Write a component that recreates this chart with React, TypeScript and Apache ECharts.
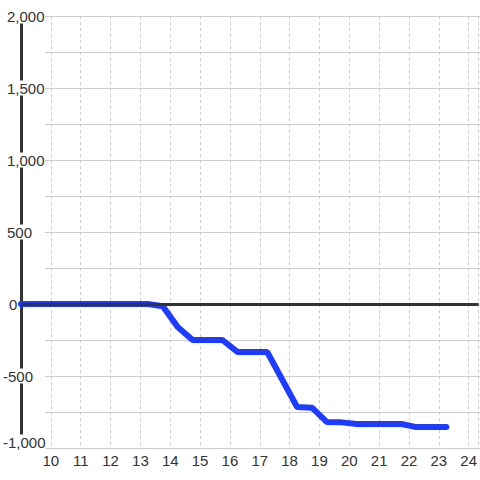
import React, { useEffect, useRef } from 'react';
import * as echarts from 'echarts';

// hour of day (x) and running value (y)
const hours = [9, 13.25, 13.75, 14.25, 14.75, 15.75, 16.25, 17.25, 18.25, 18.75, 19.25, 19.75, 20.25, 21.75, 22.25, 23.25];
const values = [0, 0, -15, -160, -250, -250, -333, -333, -715, -720, -820, -822, -833, -833, -855, -855];

const xMin = 9;
const xMax = 24 + 1 / 3;
const yMin = -1000;
const yMax = 2000;
const yLabelStep = 500;
const yGridStep = 250;

const FONT = 'Liberation Sans, Arial, sans-serif';

export default function App() {
  const ref = useRef<HTMLDivElement>(null);
  useEffect(() => {
    const chart = echarts.init(ref.current!, null, { renderer: 'svg' });
    const tok = { fontFamily: FONT, fontSize: 15, color: '#333' };
    chart.setOption({
      animation: false,
      backgroundColor: '#fff',
      grid: [
        { left: 20, right: 0, top: 16, bottom: 32 },
        { left: 45, right: 0, top: 16, bottom: 32 },
      ],
      xAxis: [
        {
          type: 'value',
          gridIndex: 0,
          min: xMin,
          max: xMax,
          interval: 1,
          axisLine: { show: false },
          axisTick: { show: false },
          axisLabel: {
            ...tok,
            margin: 5,
            showMinLabel: false,
            showMaxLabel: false,
            formatter: (v: number) => String(v),
          },
          splitLine: { show: true, lineStyle: { color: '#ccc', width: 1, type: [3, 3] } },
        },
        { type: 'value', gridIndex: 1, min: xMin, max: xMax, show: false },
      ],
      yAxis: [
        {
          type: 'value',
          gridIndex: 0,
          min: yMin,
          max: yMax,
          interval: yLabelStep,
          position: 'left',
          axisLine: { show: true, onZero: false, lineStyle: { color: '#333', width: 3 } },
          axisTick: { show: false },
          splitLine: { show: false },
          axisLabel: {
            ...tok,
            margin: 18,
            align: 'left',
            backgroundColor: '#fff',
            formatter: (v: number) => {
              const s = v.toLocaleString('en-US');
              if (v === yMin) return `{m|${s}}`;
              if (v === 0) return `{z|${s}}`;
              if (v > 0) return `{p|${s}}`;
              return `{n|${s}}`;
            },
            rich: {
              m: { ...tok, padding: [0, 0, 12, 0] },
              z: { ...tok, padding: [0, 0, 0, 6] },
              p: { ...tok, padding: [0, 0, 0, 4] },
              n: { ...tok },
            },
          },
        },
        {
          type: 'value',
          gridIndex: 1,
          min: yMin,
          max: yMax,
          interval: yGridStep,
          axisLine: { show: false },
          axisTick: { show: false },
          axisLabel: { show: false },
          splitLine: { show: true, lineStyle: { color: '#ccc', width: 1 } },
        },
      ],
      series: [
        {
          type: 'line',
          xAxisIndex: 0,
          yAxisIndex: 0,
          data: [],
          z: 1,
          silent: true,
          markLine: {
            silent: true,
            symbol: 'none',
            label: { show: false },
            lineStyle: { color: '#333', width: 3, type: 'solid' },
            data: [{ yAxis: 0 }],
          },
        },
        {
          type: 'line',
          xAxisIndex: 0,
          yAxisIndex: 0,
          data: hours.map((h, i) => [h, values[i]]),
          showSymbol: false,
          symbol: 'none',
          z: 3,
          lineStyle: { color: '#1e3cff', width: 6, cap: 'round' },
        },
      ],
    });
    return () => chart.dispose();
  }, []);
  return (
    <div
      ref={ref}
      style={{ position: 'fixed', left: 0, top: 0, width: 480, height: 480 }}
    />
  );
}
